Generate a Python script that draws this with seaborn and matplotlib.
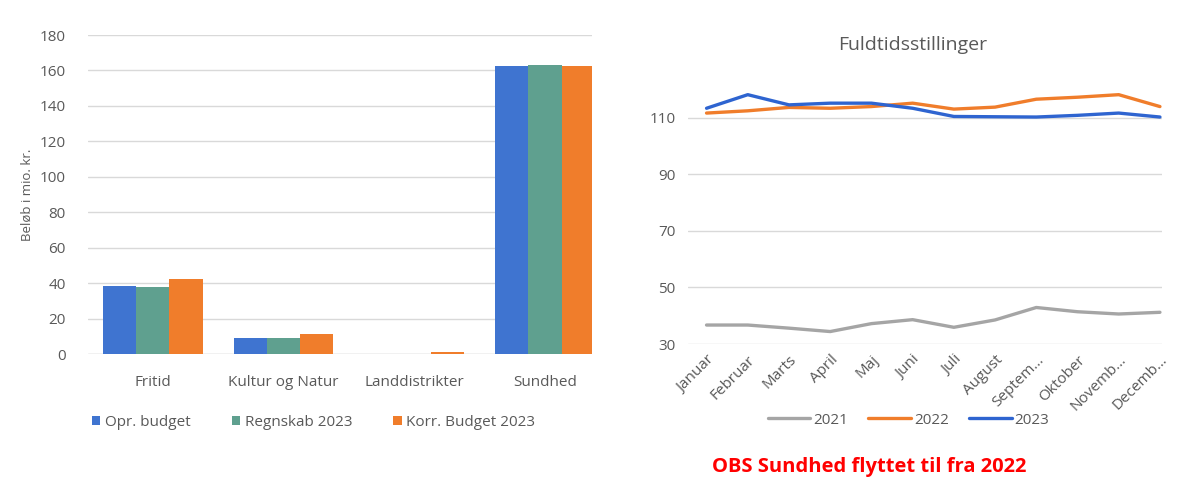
import matplotlib.pyplot as plt
import numpy as np
import pandas as pd
import seaborn as sns

# venstre graf: budget pr. område
kategorier = ["Fritid", "Kultur og Natur", "Landdistrikter", "Sundhed"]
opr_budget = [38.3, 9.1, 0.0, 162.5]
regnskab_2023 = [38.0, 9.0, 0.0, 163.2]
korr_budget_2023 = [42.1, 11.3, 1.0, 162.3]
serier = ["Opr. budget", "Regnskab 2023", "Korr. Budget 2023"]

# højre graf: fuldtidsstillinger
maaneder = ["Januar", "Februar", "Marts", "April", "Maj", "Juni", "Juli",
            "August", "Septem…", "Oktober", "Novemb…", "Decemb…"]
aar_2021 = [36.7, 36.7, 35.6, 34.4, 37.2, 38.6, 35.9, 38.5, 42.9, 41.4, 40.6, 41.2]
aar_2022 = [111.6, 112.4, 113.6, 113.3, 113.9, 115.1, 113.0, 113.7, 116.5, 117.2, 118.1, 113.9]
aar_2023 = [113.3, 118.1, 114.5, 115.1, 115.1, 113.3, 110.4, 110.3, 110.2, 110.8, 111.6, 110.2]

if __name__ == "__main__":
    sns.set_style("white")
    plt.rcParams["font.family"] = ["Open Sans", "DejaVu Sans"]
    tekst = "#595959"
    gitter = "#D9D9D9"
    fs = 11

    fig = plt.figure(figsize=(11.83, 4.83), dpi=100)

    # --- søjlediagram ---
    df = pd.DataFrame({
        "kategori": kategorier * 3,
        "serie": np.repeat(serier, len(kategorier)),
        "beløb": opr_budget + regnskab_2023 + korr_budget_2023,
    })
    ax1 = fig.add_axes([88 / 1183, 129 / 483, 504 / 1183, 319 / 483])
    sns.barplot(data=df, x="kategori", y="beløb", hue="serie",
                palette=["#3F74D0", "#5FA08F", "#F07D2B"], width=0.76,
                saturation=1, linewidth=0, ax=ax1, legend=True)
    ax1.set_ylim(0, 180)
    ax1.set_xlim(-0.497, 3.36)
    ax1.set_yticks(range(0, 181, 20))
    ax1.yaxis.grid(True, color=gitter, lw=1)
    ax1.set_axisbelow(True)
    sns.despine(ax=ax1, left=True, bottom=True)
    ax1.axhline(0, color=gitter, lw=1, zorder=0)
    ax1.tick_params(axis="both", length=0, colors=tekst, labelsize=fs)
    ax1.tick_params(axis="x", pad=15)
    ax1.tick_params(axis="y", pad=16)
    ax1.set_xlabel("")
    ax1.set_ylabel("Beløb i mio. kr.", color=tekst, fontsize=9.5, labelpad=4)
    h, l = ax1.get_legend_handles_labels()
    ax1.legend_.remove()
    fig.legend(h, l, loc="center", bbox_to_anchor=(0.265, 0.126), ncol=3,
               frameon=False, handlelength=0.55, handleheight=0.55,
               handletextpad=0.3, columnspacing=2.7, fontsize=fs,
               labelcolor=tekst)

    # --- linjediagram ---
    dl = pd.DataFrame({
        "md": list(range(12)) * 3,
        "år": np.repeat(["2021", "2022", "2023"], 12),
        "antal": aar_2021 + aar_2022 + aar_2023,
    })
    ax2 = fig.add_axes([688 / 1183, 139 / 483, 474 / 1183, 283 / 483])
    sns.lineplot(data=dl, x="md", y="antal", hue="år",
                 palette=["#A5A5A5", "#F07D2B", "#2E64D0"], linewidth=2.4,
                 ax=ax2)
    ax2.set_ylim(30, 130)
    ax2.set_xlim(-0.45, 11.05)
    ax2.set_yticks(range(30, 111, 20))
    ax2.set_xticks(range(12))
    ax2.set_xticklabels(maaneder, rotation=45, ha="right",
                        rotation_mode="anchor")
    ax2.yaxis.grid(True, color=gitter, lw=1)
    ax2.set_axisbelow(True)
    sns.despine(ax=ax2, left=True, bottom=True)
    ax2.tick_params(axis="both", length=0, colors=tekst, labelsize=fs)
    ax2.tick_params(axis="y", pad=9)
    ax2.tick_params(axis="x", pad=6)
    ax2.set_xlabel("")
    ax2.set_ylabel("")
    ax2.set_title("Fuldtidsstillinger", color=tekst, fontsize=14, pad=8,
                  x=0.473)
    h2, l2 = ax2.get_legend_handles_labels()
    ax2.legend_.remove()
    fig.legend(h2, l2, loc="center", bbox_to_anchor=(0.768, 0.13), ncol=3,
               frameon=False, handlelength=2.8, handletextpad=0.2,
               columnspacing=1.3, fontsize=fs, labelcolor=tekst)

    fig.text(0.735, 0.033, "OBS Sundhed flyttet til fra 2022", color="#FF0000",
             fontsize=14.5, fontweight="bold", ha="center", va="center")

    plt.savefig("out.png", dpi=100)
    plt.clf()
